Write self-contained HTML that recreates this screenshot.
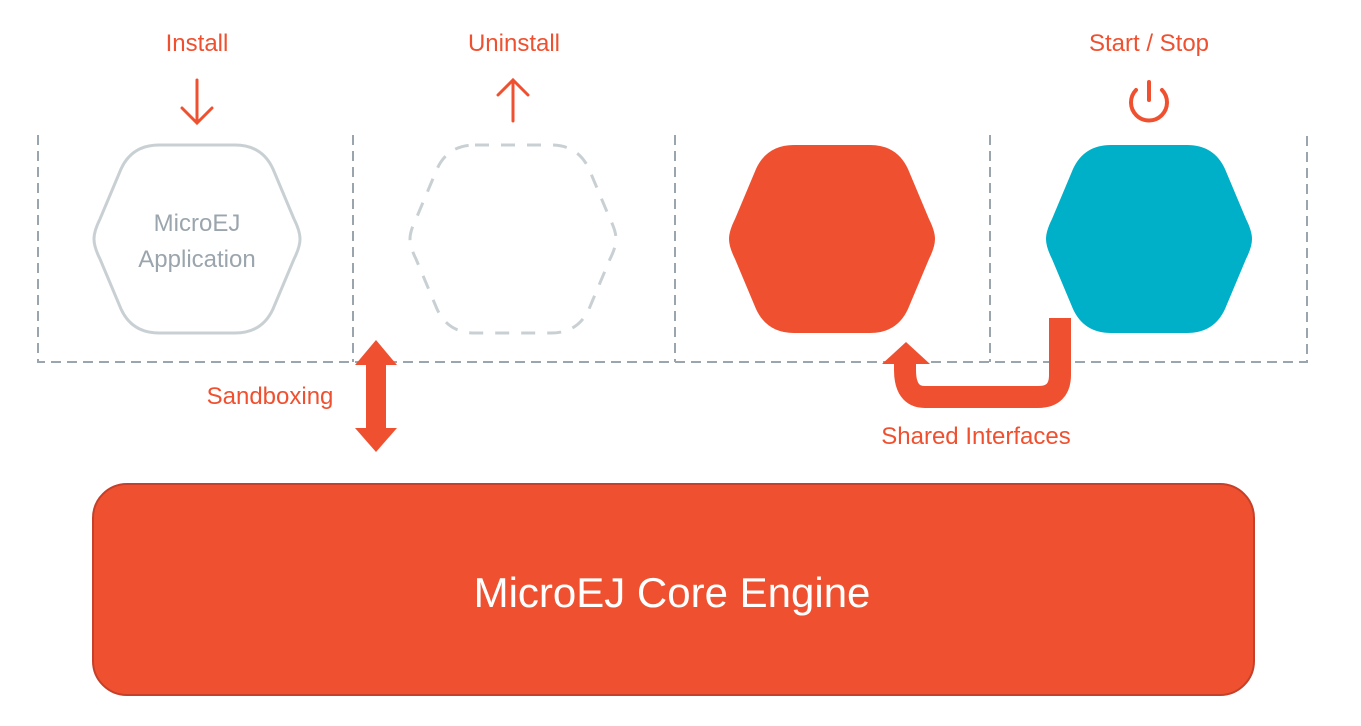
<!DOCTYPE html>
<html><head><style>
body{margin:0;background:#fff;}
svg{display:block;font-family:"Liberation Sans",sans-serif;}
</style></head><body>
<svg width="1361" height="726" viewBox="0 0 1361 726">
<defs>
<path id="hx" d="M-38,-94 L38,-94 Q65,-94 76,-70 L97,-20 Q103,-8 103,0 Q103,8 97,20 L76,70 Q65,94 38,94 L-38,94 Q-65,94 -76,70 L-97,20 Q-103,8 -103,0 Q-103,-8 -97,-20 L-76,-70 Q-65,-94 -38,-94 Z"/>
</defs>
<g stroke="#9aa5ad" stroke-width="2" stroke-dasharray="10,6" fill="none">
<path d="M38,135 V362 H1307 V135"/>
<path d="M353,135 V362 M675,135 V362 M990,135 V362"/>
</g>
<g fill="#ef5130" font-size="24" text-anchor="middle">
<text x="197" y="51">Install</text>
<text x="514" y="51">Uninstall</text>
<text x="1149" y="51">Start / Stop</text>
<text x="270" y="404">Sandboxing</text>
<text x="976" y="444">Shared Interfaces</text>
</g>
<g stroke="#ef5130" stroke-width="3" fill="none" stroke-linecap="round">
<path d="M197,80 V123 M182,108 L197,123 L212,108"/>
<path d="M513,121 V80 M498,95 L513,80 L528,95"/>
<path d="M1136,90 A18,18 0 1 0 1162,90" stroke-width="4"/>
<path d="M1149,82 V100" stroke-width="4"/>
</g>
<g transform="translate(197,239)"><use href="#hx" fill="#fff" stroke="#c9d0d4" stroke-width="3"/></g>
<g transform="translate(513,239)"><use href="#hx" fill="#fff" stroke="#c9d0d4" stroke-width="3" stroke-dasharray="14,12"/></g>
<g transform="translate(832,239)"><use href="#hx" fill="#ef5130"/></g>
<g transform="translate(1149,239)"><use href="#hx" fill="#00afc8"/></g>
<text x="197" y="231" font-size="24" fill="#9aa5ad" text-anchor="middle">MicroEJ</text>
<text x="197" y="267" font-size="24" fill="#9aa5ad" text-anchor="middle">Application</text>
<path d="M376,340 L397,365 L386,365 L386,428 L397,428 L376,452 L355,428 L366,428 L366,365 L355,365 Z" fill="#ef5130"/>
<path d="M1060,318 V375 Q1060,397 1038,397 H925 Q905,397 905,370 V360" stroke="#ef5130" stroke-width="22" fill="none"/>
<path d="M882,364 L906,342 L930,364 Z" fill="#ef5130"/>
<rect x="93" y="484" width="1161" height="211" rx="34" fill="#ef5130" stroke="#c4402a" stroke-width="2"/>
<text x="672" y="607" font-size="42" fill="#fff" text-anchor="middle">MicroEJ Core Engine</text>
</svg>
</body></html>
